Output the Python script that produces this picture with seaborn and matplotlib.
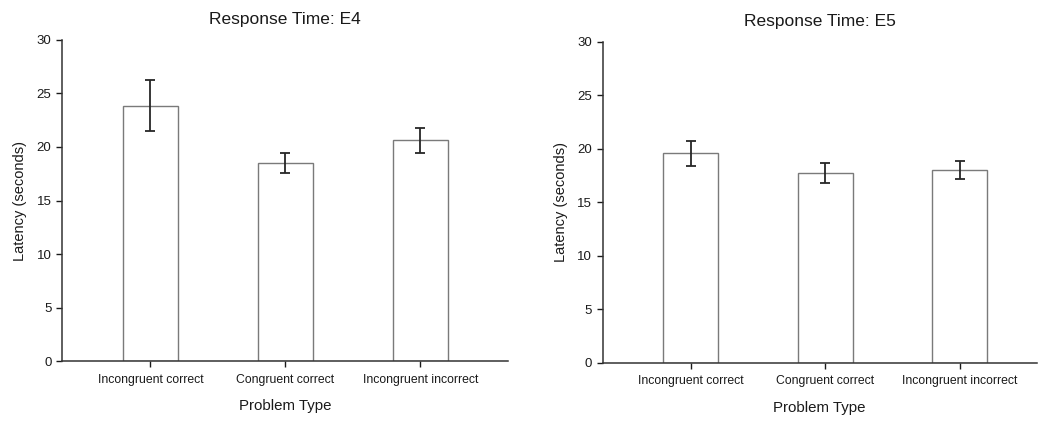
import matplotlib
matplotlib.use("Agg")
import matplotlib.pyplot as plt
import seaborn as sns
import pandas as pd

categories = ["Incongruent correct", "Congruent correct", "Incongruent incorrect"]
e4_means = [23.85, 18.52, 20.62]
e4_err = [2.38, 0.93, 1.15]
e5_means = [19.57, 17.70, 17.98]
e5_err = [1.17, 0.93, 0.84]
titles = ["Response Time: E4", "Response Time: E5"]
yticks = [0, 5, 10, 15, 20, 25, 30]

sns.set_theme(style="ticks")
plt.rcParams['font.family'] = ['Liberation Sans', 'DejaVu Sans']

fig = plt.figure(figsize=(10.38, 4.21), dpi=100)
ax1 = fig.add_axes([0.0597, 0.1425, 0.4297, 0.7625])
ax2 = fig.add_axes([0.5806, 0.1385, 0.418, 0.7625])

panels = [(ax1, e4_means, e4_err, titles[0], (-0.656, 2.65)),
          (ax2, e5_means, e5_err, titles[1], (-0.654, 2.57))]

for ax, means, errs, title, xl in panels:
    df = pd.DataFrame({"Problem Type": categories, "Latency": means})
    sns.barplot(data=df, x="Problem Type", y="Latency", ax=ax, width=0.41,
                color="white", edgecolor="#7a7a7a", linewidth=1.0, errorbar=None,
                zorder=2)
    ax.errorbar(range(len(means)), means, yerr=errs, fmt="none", ecolor="#262626",
                elinewidth=1.3, capsize=3.6, capthick=1.3, zorder=3)
    ax.set_ylim(0, 30)
    ax.set_yticks(yticks)
    ax.set_xlim(*xl)
    ax.set_title(title, fontsize=12.5, color="#1a1a1a", pad=11.5)
    ax.set_xlabel("Problem Type", fontsize=10.8, color="#1a1a1a", labelpad=10)
    ax.set_ylabel("Latency (seconds)", fontsize=10.5, color="#1a1a1a", labelpad=7)
    ax.tick_params(axis="y", labelsize=9.5, colors="#1a1a1a", length=4, width=1.0, direction="out")
    ax.tick_params(axis="x", labelsize=8.8, colors="#1a1a1a", length=4, width=1.0, direction="out", pad=5)
    for s in ["top", "right"]:
        ax.spines[s].set_visible(False)
    for s in ["left", "bottom"]:
        ax.spines[s].set_color("#333333")
        ax.spines[s].set_linewidth(1.1)

fig.savefig("out.png", dpi=100, facecolor="white")
